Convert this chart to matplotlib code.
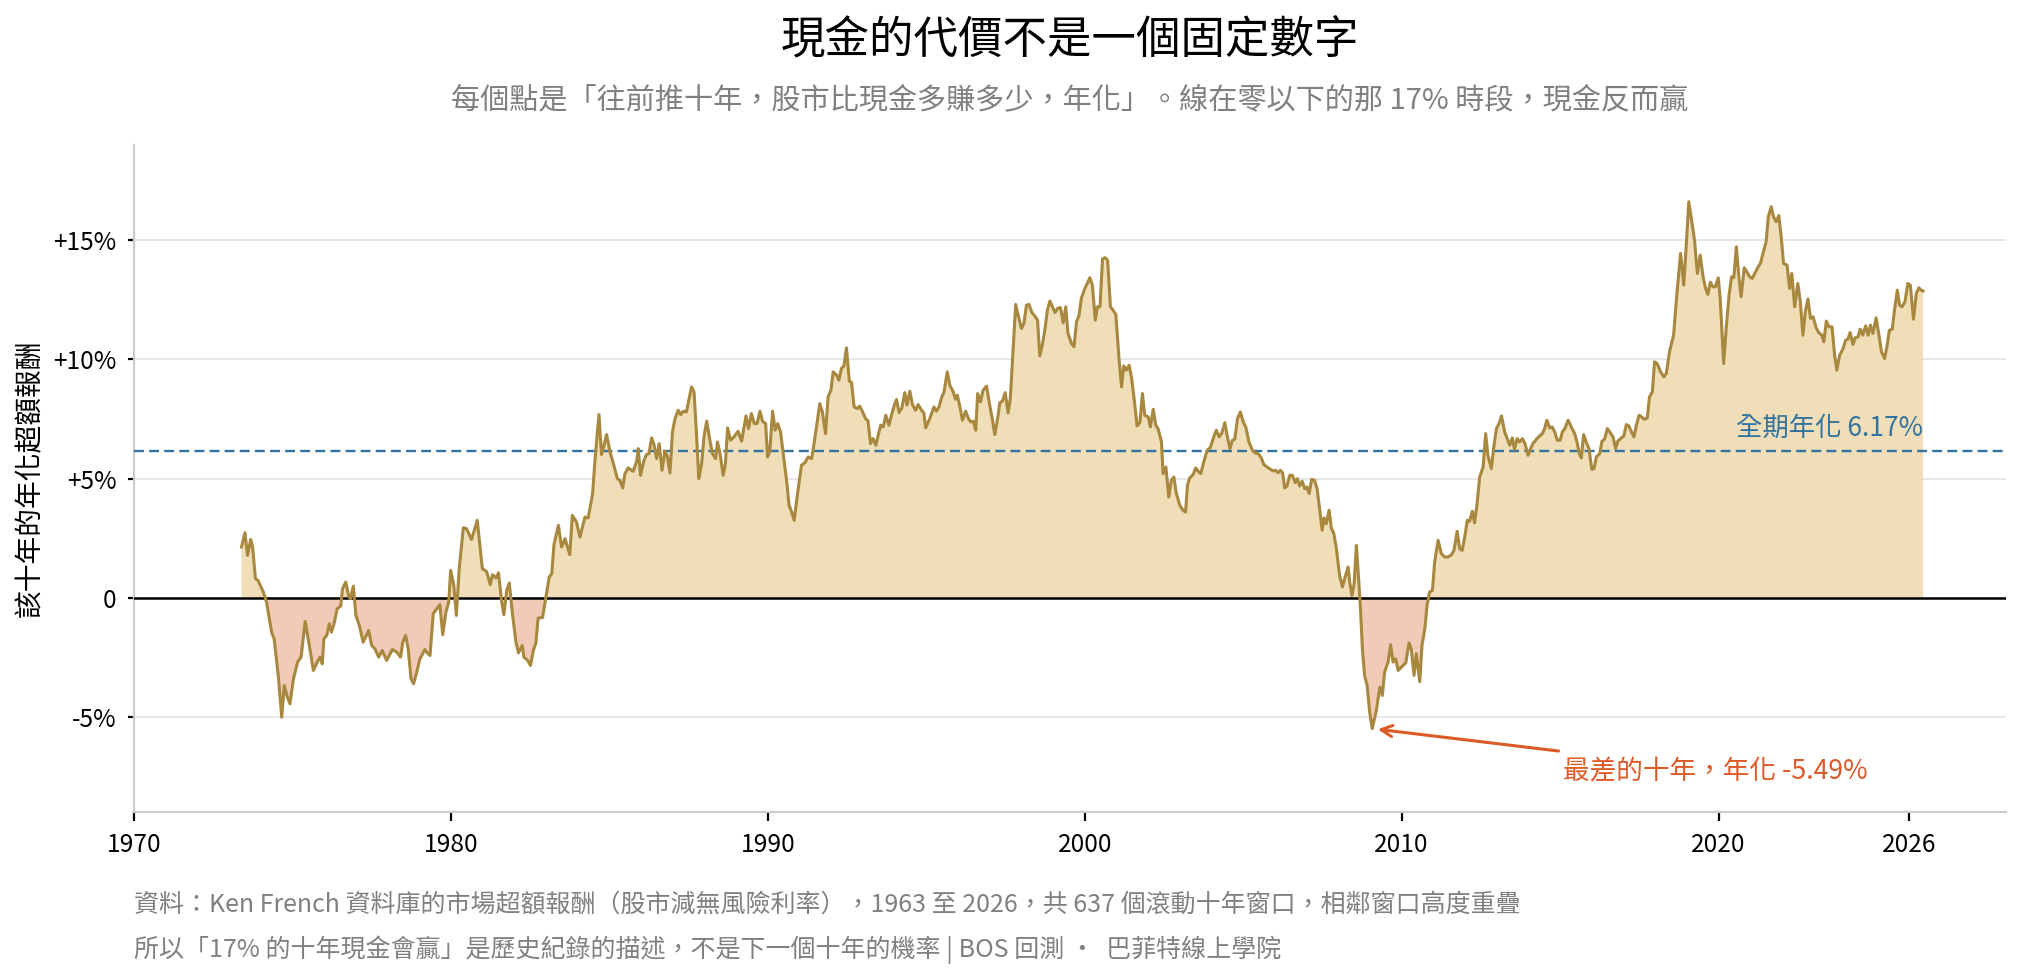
import numpy as np
import matplotlib
matplotlib.use("Agg")
import matplotlib.pyplot as plt

plt.rcParams['font.family'] = ['Noto Sans CJK TC', 'DejaVu Sans']

# ---- data: rolling 10-year annualised excess return (%), window end (decimal year)
years_a = [1973.39, 1973.50, 1973.58, 1973.68, 1973.74, 1973.83, 1973.91, 1974.08, 1974.18, 1974.34,
           1974.42, 1974.55, 1974.66, 1974.74, 1974.82, 1974.92, 1975.03, 1975.16, 1975.27, 1975.40,
           1975.53, 1975.66, 1975.78, 1975.87, 1975.94, 1975.99, 1976.08, 1976.16, 1976.23, 1976.31,
           1976.41, 1976.52, 1976.58, 1976.68, 1976.78, 1976.83, 1976.92, 1977.00, 1977.11, 1977.23,
           1977.32, 1977.40, 1977.50, 1977.60, 1977.72, 1977.83, 1977.97, 1978.15, 1978.29, 1978.41,
           1978.48, 1978.57, 1978.65, 1978.74, 1978.82, 1978.92, 1979.02, 1979.18, 1979.25, 1979.34,
           1979.44, 1979.55, 1979.65, 1979.74, 1979.84, 1979.93, 1979.99, 1980.09, 1980.17, 1980.26,
           1980.39, 1980.49, 1980.65, 1980.83, 1980.99, 1981.12, 1981.24, 1981.31, 1981.42, 1981.50,
           1981.60, 1981.67, 1981.76, 1981.84, 1981.94, 1982.05, 1982.13, 1982.25, 1982.30, 1982.42,
           1982.51, 1982.60, 1982.68, 1982.75, 1982.89]
excess_a = [2.13, 2.73, 1.78, 2.45, 2.13, 0.80, 0.73, 0.24, -0.18, -1.44,
            -1.72, -3.26, -5.01, -3.68, -4.10, -4.45, -3.40, -2.70, -2.49, -0.99,
            -2.00, -3.05, -2.70, -2.49, -2.77, -1.72, -1.58, -1.09, -1.44, -1.09,
            -0.46, -0.35, 0.38, 0.66, 0.03, -0.04, 0.49, -0.74, -1.16, -1.86,
            -1.61, -1.37, -2.00, -2.14, -2.49, -2.21, -2.63, -2.17, -2.28, -2.49,
            -1.86, -1.58, -2.14, -3.40, -3.61, -3.12, -2.56, -2.17, -2.31, -2.42,
            -0.67, -0.46, -0.29, -1.55, -0.60, -0.18, 1.15, 0.52, -0.74, 1.22,
            2.94, 2.90, 2.45, 3.25, 1.22, 1.11, 0.55, 0.97, 0.83, 1.05,
            -0.18, -0.71, 0.31, 0.62, -0.67, -1.86, -2.31, -2.00, -2.49, -2.63,
            -2.84, -2.21, -1.89, -0.85, -0.83]

years_b = [1983.02, 1983.10, 1983.18, 1983.25, 1983.39, 1983.49, 1983.60, 1983.75, 1983.83, 1983.96,
           1984.07, 1984.23, 1984.33, 1984.47, 1984.54, 1984.67, 1984.75, 1984.83, 1984.91, 1985.02,
           1985.14, 1985.25, 1985.33, 1985.42, 1985.49, 1985.59, 1985.75, 1985.86, 1985.91, 1985.98,
           1986.09, 1986.17, 1986.25, 1986.33, 1986.40, 1986.49, 1986.57, 1986.66, 1986.75, 1986.82,
           1986.91, 1986.99, 1987.07, 1987.17, 1987.25, 1987.33, 1987.43, 1987.51, 1987.59, 1987.67,
           1987.75, 1987.82, 1987.91, 1987.99, 1988.07, 1988.17, 1988.25, 1988.35, 1988.41, 1988.49,
           1988.59, 1988.66, 1988.73, 1988.82, 1988.93, 1989.06, 1989.17, 1989.31, 1989.39, 1989.48,
           1989.57, 1989.66, 1989.75, 1989.83, 1989.93, 1989.99, 1990.06, 1990.15, 1990.23, 1990.31,
           1990.40, 1990.48, 1990.59, 1990.67, 1990.75, 1990.83, 1990.93, 1991.06, 1991.17, 1991.27,
           1991.38, 1991.45, 1991.54]
excess_b = [0.24, 0.87, 1.01, 2.23, 3.04, 2.13, 2.48, 1.81, 3.46, 3.18,
            2.55, 3.39, 3.35, 4.37, 5.70, 7.69, 6.01, 6.40, 6.85, 6.12,
            5.56, 5.00, 4.93, 4.61, 5.21, 5.45, 5.31, 5.73, 6.26, 5.14,
            5.77, 6.01, 6.05, 6.71, 6.47, 5.84, 6.47, 5.35, 6.15, 5.98,
            5.24, 6.96, 7.52, 7.87, 7.69, 7.83, 7.80, 8.32, 8.85, 8.64,
            6.82, 5.00, 5.63, 6.82, 7.41, 6.61, 6.05, 5.84, 6.54, 6.05,
            5.14, 5.63, 7.13, 6.61, 6.75, 6.99, 6.57, 7.63, 7.10, 7.73,
            7.31, 7.31, 7.83, 7.41, 7.31, 5.91, 6.15, 7.83, 7.03, 7.31,
            6.96, 6.12, 4.93, 3.88, 3.60, 3.25, 4.30, 5.56, 5.67, 5.91,
            5.84, 6.40, 7.24]

years_c = [1991.64, 1991.72, 1991.82, 1991.90, 1991.99, 1992.06, 1992.17, 1992.24, 1992.32, 1992.40,
           1992.48, 1992.57, 1992.64, 1992.72, 1992.82, 1992.90, 1992.99, 1993.08, 1993.16, 1993.24,
           1993.32, 1993.41, 1993.48, 1993.56, 1993.64, 1993.72, 1993.82, 1993.90, 1993.99, 1994.06,
           1994.14, 1994.23, 1994.32, 1994.39, 1994.48, 1994.56, 1994.66, 1994.74, 1994.85, 1994.92,
           1994.98, 1995.11, 1995.24, 1995.32, 1995.40, 1995.49, 1995.56, 1995.66, 1995.74, 1995.85,
           1995.92, 1995.98, 1996.06, 1996.14, 1996.24, 1996.33, 1996.40, 1996.48, 1996.56, 1996.62,
           1996.71, 1996.79, 1996.90, 1997.00, 1997.09, 1997.16, 1997.25, 1997.32, 1997.40, 1997.49,
           1997.58, 1997.65, 1997.74, 1997.82, 1997.91, 1998.00, 1998.08, 1998.16, 1998.24, 1998.33,
           1998.42, 1998.51, 1998.58, 1998.66, 1998.74, 1998.82, 1998.90, 1998.98, 1999.06, 1999.14,
           1999.23, 1999.32, 1999.40, 1999.47, 1999.58, 1999.66, 1999.74, 1999.82, 1999.89, 2000.00,
           2000.08, 2000.16, 2000.24, 2000.33, 2000.40, 2000.48, 2000.56, 2000.64, 2000.72, 2000.81,
           2000.89, 2000.98]
excess_c = [8.15, 7.80, 6.89, 8.43, 8.71, 9.48, 9.34, 9.13, 9.62, 9.73,
            10.49, 9.09, 9.03, 8.01, 7.94, 8.04, 7.80, 7.52, 7.42, 6.47,
            6.68, 6.40, 6.82, 7.24, 7.17, 7.66, 7.24, 7.66, 8.08, 8.32,
            7.77, 7.97, 8.61, 8.08, 8.67, 8.11, 7.87, 8.11, 7.87, 7.76,
            7.13, 7.52, 8.01, 7.83, 8.01, 8.43, 8.64, 9.48, 8.92, 8.64,
            8.33, 8.50, 8.01, 7.45, 7.83, 7.52, 7.38, 7.41, 7.03, 8.57,
            8.22, 8.71, 8.88, 8.08, 7.45, 6.85, 7.52, 8.19, 8.25, 8.61,
            7.76, 8.36, 10.46, 12.31, 11.79, 11.30, 11.51, 12.28, 12.31, 11.97,
            11.83, 11.65, 10.15, 10.60, 11.23, 12.07, 12.45, 12.21, 11.97, 12.14,
            12.18, 11.54, 12.21, 11.09, 10.67, 10.53, 11.58, 11.86, 12.56, 12.98,
            13.19, 13.43, 13.12, 11.65, 12.21, 12.21, 14.22, 14.27, 14.17, 12.21,
            12.07, 11.89]

years_d = [2001.08, 2001.16, 2001.23, 2001.31, 2001.40, 2001.48, 2001.58, 2001.65, 2001.74, 2001.82,
           2001.89, 2002.00, 2002.07, 2002.16, 2002.24, 2002.31, 2002.42, 2002.47, 2002.56, 2002.65,
           2002.73, 2002.81, 2002.89, 2003.00, 2003.10, 2003.18, 2003.24, 2003.31, 2003.42, 2003.50,
           2003.58, 2003.66, 2003.77, 2003.86, 2003.96, 2004.07, 2004.15, 2004.24, 2004.33, 2004.42,
           2004.49, 2004.58, 2004.66, 2004.73, 2004.82, 2004.91, 2005.00, 2005.08, 2005.18, 2005.29,
           2005.37, 2005.47, 2005.57, 2005.65, 2005.75, 2005.86, 2005.94, 2006.02, 2006.10, 2006.17,
           2006.24, 2006.31, 2006.38, 2006.47, 2006.55, 2006.64, 2006.71, 2006.78, 2006.86, 2006.94,
           2007.01, 2007.08, 2007.16, 2007.25, 2007.33, 2007.41, 2007.49, 2007.55, 2007.62, 2007.71,
           2007.78, 2007.86, 2007.94, 2008.04, 2008.13, 2008.20, 2008.31, 2008.36, 2008.43, 2008.50,
           2008.57, 2008.62, 2008.70, 2008.76, 2008.83, 2008.91, 2008.99, 2009.07, 2009.20]
excess_d = [10.04, 8.85, 9.73, 9.55, 9.76, 9.20, 8.08, 7.21, 7.35, 8.57,
            7.66, 7.59, 7.17, 7.91, 7.24, 7.10, 6.54, 5.21, 5.49, 4.23,
            4.93, 5.07, 4.37, 3.88, 3.67, 3.60, 4.72, 5.03, 5.17, 5.45,
            5.31, 5.21, 5.77, 6.19, 6.30, 6.75, 7.03, 6.75, 6.93, 7.35,
            6.82, 6.26, 6.61, 6.65, 7.52, 7.80, 7.38, 7.17, 6.54, 6.19,
            6.08, 6.05, 5.87, 5.59, 5.49, 5.39, 5.32, 5.35, 5.25, 5.35,
            5.25, 4.61, 4.69, 5.14, 5.14, 4.83, 5.00, 4.69, 4.89, 4.58,
            4.65, 4.37, 4.97, 4.93, 4.58, 3.74, 2.83, 3.35, 3.11, 3.67,
            2.93, 2.69, 2.06, 0.94, 0.45, 0.80, 1.29, 0.66, 0.10, 0.59,
            2.20, 1.22, -0.46, -2.14, -3.26, -3.68, -4.80, -5.49, -4.73]

years_e = [2009.31, 2009.39, 2009.46, 2009.57, 2009.65, 2009.73, 2009.81, 2009.89, 2009.99, 2010.13,
           2010.23, 2010.30, 2010.39, 2010.46, 2010.57, 2010.64, 2010.73, 2010.80, 2010.88, 2010.97,
           2011.04, 2011.15, 2011.25, 2011.36, 2011.46, 2011.57, 2011.65, 2011.75, 2011.83, 2011.91,
           2011.99, 2012.07, 2012.14, 2012.23, 2012.30, 2012.38, 2012.46, 2012.57, 2012.65, 2012.72,
           2012.83, 2012.90, 2012.99, 2013.07, 2013.15, 2013.25, 2013.33, 2013.41, 2013.49, 2013.56,
           2013.64, 2013.72, 2013.81, 2013.89, 2013.99, 2014.06, 2014.14, 2014.25, 2014.35, 2014.44,
           2014.51, 2014.58, 2014.67, 2014.75, 2014.83, 2014.91, 2015.00, 2015.07, 2015.15, 2015.25,
           2015.35, 2015.46, 2015.53, 2015.61, 2015.67, 2015.74, 2015.83, 2015.91, 2016.00, 2016.07,
           2016.14, 2016.25, 2016.32, 2016.40, 2016.49, 2016.58, 2016.67, 2016.75, 2016.82, 2016.93,
           2017.01, 2017.09, 2017.17, 2017.25, 2017.33, 2017.40, 2017.49, 2017.57, 2017.66, 2017.75,
           2017.82, 2017.91, 2017.98, 2018.06, 2018.17, 2018.27, 2018.35]
excess_e = [-3.75, -4.10, -3.12, -2.70, -1.97, -2.70, -2.56, -3.05, -2.91, -2.73,
            -1.89, -2.14, -3.26, -2.35, -3.52, -2.00, -1.30, -0.32, 0.24, 0.31,
            1.50, 2.41, 1.85, 1.71, 1.71, 1.81, 1.99, 2.79, 2.06, 1.99,
            2.55, 3.25, 3.21, 3.63, 3.14, 3.95, 5.07, 5.49, 6.89, 5.98,
            5.42, 6.26, 7.10, 7.31, 7.63, 6.96, 6.68, 6.40, 6.71, 6.23,
            6.68, 6.54, 6.68, 6.47, 5.98, 6.23, 6.47, 6.65, 6.79, 6.89,
            7.10, 7.45, 7.13, 7.17, 6.96, 6.61, 6.61, 6.96, 7.10, 7.45,
            7.17, 6.89, 6.54, 6.05, 5.87, 6.85, 6.51, 6.26, 5.39, 5.42,
            5.91, 6.05, 6.57, 6.65, 7.10, 6.93, 6.75, 6.26, 6.57, 6.71,
            6.79, 7.27, 7.21, 6.96, 6.75, 7.21, 7.66, 7.59, 7.49, 7.55,
            8.43, 8.64, 9.90, 9.83, 9.48, 9.27, 9.41]

years_f = [2018.45, 2018.58, 2018.69, 2018.80, 2018.90, 2018.98, 2019.06, 2019.17, 2019.24, 2019.33,
           2019.42, 2019.51, 2019.59, 2019.66, 2019.74, 2019.82, 2019.90, 2019.99, 2020.05, 2020.16,
           2020.24, 2020.33, 2020.41, 2020.48, 2020.56, 2020.64, 2020.71, 2020.81, 2020.89, 2020.98,
           2021.06, 2021.17, 2021.25, 2021.32, 2021.40, 2021.50, 2021.57, 2021.66, 2021.73, 2021.82,
           2021.90, 2021.98, 2022.05, 2022.16, 2022.24, 2022.31, 2022.40, 2022.50, 2022.58, 2022.66,
           2022.74, 2022.82, 2022.90, 2022.98, 2023.08, 2023.16, 2023.26, 2023.32, 2023.40, 2023.48,
           2023.58, 2023.66, 2023.73, 2023.82, 2023.92, 2024.01, 2024.08, 2024.15, 2024.24, 2024.31,
           2024.40, 2024.47, 2024.55, 2024.64, 2024.72, 2024.79, 2024.87, 2024.97, 2025.06, 2025.14,
           2025.24, 2025.31, 2025.39, 2025.48, 2025.55, 2025.64, 2025.71, 2025.79, 2025.88, 2025.97,
           2026.05, 2026.15, 2026.24, 2026.32, 2026.39, 2026.45]
excess_f = [10.32, 11.02, 12.84, 14.45, 13.12, 14.80, 16.62, 15.64, 15.01, 13.61,
            14.38, 13.47, 12.98, 12.73, 13.24, 13.05, 13.05, 13.43, 12.56, 9.83,
            11.30, 12.70, 13.47, 13.43, 14.73, 13.47, 12.63, 13.85, 13.68, 13.47,
            13.40, 13.68, 13.89, 14.03, 14.45, 14.94, 15.99, 16.41, 15.99, 15.78,
            16.04, 15.08, 14.03, 13.96, 12.98, 13.61, 12.21, 13.19, 12.42, 11.02,
            12.03, 12.54, 11.72, 11.79, 11.33, 11.13, 11.02, 10.74, 11.61, 11.37,
            11.37, 10.18, 9.55, 10.18, 10.43, 10.81, 10.85, 11.13, 10.63, 10.91,
            10.95, 11.27, 11.02, 11.41, 11.02, 11.44, 11.09, 11.75, 11.02, 10.32,
            10.04, 10.53, 11.23, 11.27, 12.07, 12.91, 12.28, 12.21, 12.42, 13.19,
            13.12, 11.69, 12.77, 13.01, 12.91, 12.87]

full_period_annual = 6.17
x_ticks = [1970, 1980, 1990, 2000, 2010, 2020, 2026]
x_ticklabels = ['1970', '1980', '1990', '2000', '2010', '2020', '2026']
y_ticks = [-5, 0, 5, 10, 15]
y_ticklabels = ['-5%', '0', '+5%', '+10%', '+15%']

title = '現金的代價不是一個固定數字'
subtitle = '每個點是「往前推十年，股市比現金多賺多少，年化」。線在零以下的那 17% 時段，現金反而贏'
ylabel = '該十年的年化超額報酬'
mean_label = '全期年化 6.17%'
worst_label = '最差的十年，年化 {:.2f}%'
foot1 = '資料：Ken French 資料庫的市場超額報酬（股市減無風險利率），1963 至 2026，共 637 個滾動十年窗口，相鄰窗口高度重疊'
foot2 = '所以「17% 的十年現金會贏」是歷史紀錄的描述，不是下一個十年的機率 | BOS 回測 ·  巴菲特線上學院'

years = np.array(years_a + years_b + years_c + years_d + years_e + years_f)
excess = np.array(excess_a + excess_b + excess_c + excess_d + excess_e + excess_f)

# ---- styling
LINE = '#a8883e'
POS = '#efdeb8'
NEG = '#f2cab7'
BLUE = '#33739f'
ORANGE = '#dd5a26'
GRAY = '#808080'

fig = plt.figure(figsize=(10.11, 4.885), dpi=200)
ax = fig.add_axes([0.0663, 0.1686, 0.9258, 0.6830])

ax.fill_between(years, excess, 0, where=excess >= 0, interpolate=True,
                color=POS, lw=0, zorder=2)
ax.fill_between(years, excess, 0, where=excess <= 0, interpolate=True,
                color=NEG, lw=0, zorder=2)
ax.axhline(0, color='black', lw=0.9, zorder=3)
ax.axhline(full_period_annual, color=BLUE, lw=0.85, ls=(0, (4.2, 2.2)), zorder=4)
ax.plot(years, excess, color=LINE, lw=1.1, zorder=5, solid_joinstyle='round')

ax.set_xlim(1970, 2029.07)
ax.set_ylim(-9, 19)
ax.set_xticks(x_ticks)
ax.set_xticklabels(x_ticklabels)
ax.set_yticks(y_ticks)
ax.set_yticklabels(y_ticklabels)
ax.tick_params(axis='x', length=3.2, width=0.8, color='black', labelsize=8.8, pad=4)
ax.tick_params(axis='y', length=2.2, width=0.8, color='black', labelsize=8.8, pad=4)
ax.grid(axis='y', color='#e6e6e6', lw=0.7)
ax.set_axisbelow(True)
for s in ['top', 'right']:
    ax.spines[s].set_visible(False)
for s in ['left', 'bottom']:
    ax.spines[s].set_color('#cccccc')
    ax.spines[s].set_linewidth(0.8)

ax.set_ylabel(ylabel, fontsize=10, color='black', labelpad=3)

# mean label
ax.text(years[-1], full_period_annual + 0.95, mean_label, color=BLUE, fontsize=9.5,
        ha='right', va='center', zorder=6)

# worst decade annotation
imin = int(np.argmin(excess))
ax.annotate('', xy=(years[imin], excess[imin]), xytext=(2014.95, -6.43),
            arrowprops=dict(arrowstyle='->', color=ORANGE, lw=1.1,
                            shrinkA=0, shrinkB=2, mutation_scale=10), zorder=6)
ax.text(2015.1, -7.31, worst_label.format(excess[imin]), color=ORANGE, fontsize=9.6,
        ha='left', va='center', zorder=6)

# titles
fig.text(0.5291, 1 - 40 / 977, title, fontsize=16, fontweight='medium',
         ha='center', va='center', color='black')
fig.text(0.5291, 1 - 100 / 977, subtitle, fontsize=10.5,
         ha='center', va='center', color=GRAY)

# footnotes
fig.text(134 / 2022, 1 - 905 / 977, foot1, fontsize=9.0, ha='left', va='center', color=GRAY)
fig.text(134 / 2022, 1 - 950 / 977, foot2, fontsize=9.0, ha='left', va='center', color=GRAY)

fig.savefig('out.png', dpi=200)
